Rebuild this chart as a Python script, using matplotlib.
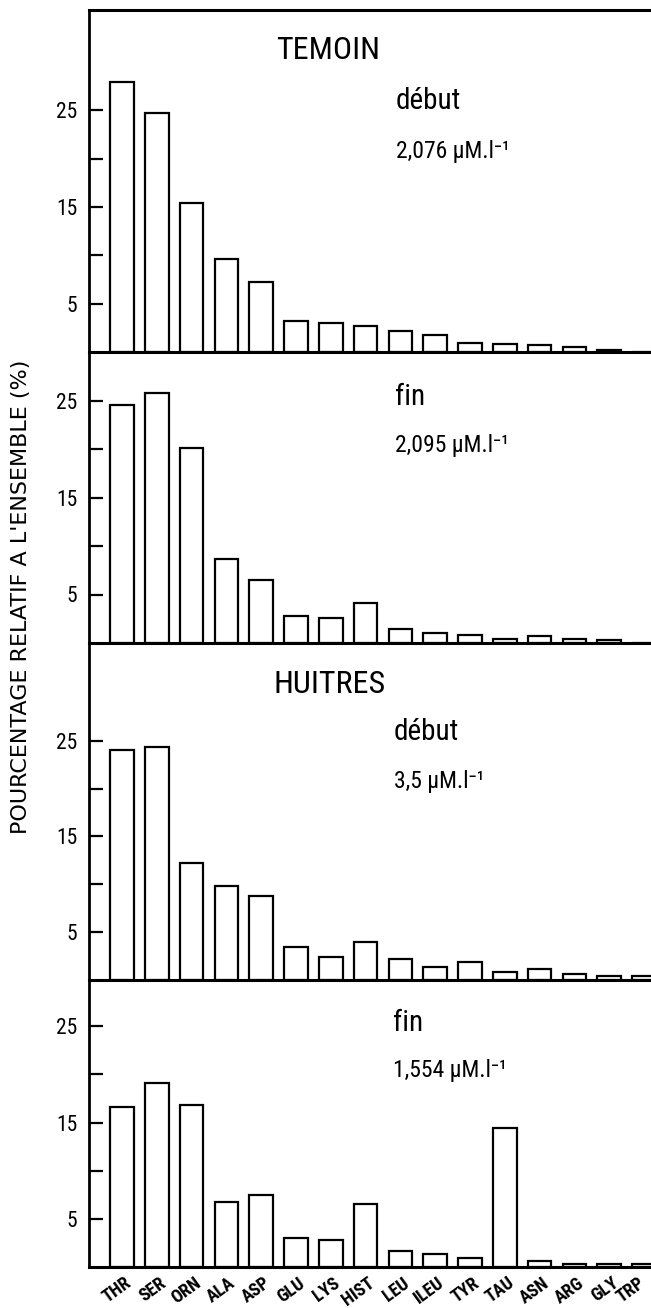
import matplotlib
matplotlib.use("Agg")
import matplotlib.pyplot as plt
from matplotlib import font_manager
from matplotlib.transforms import ScaledTranslation
import numpy as np

# ---------------- data ----------------
amino_acids = ["THR", "SER", "ORN", "ALA", "ASP", "GLU", "LYS", "HIST",
               "LEU", "ILEU", "TYR", "TAU", "ASN", "ARG", "GLY", "TRP"]
temoin_debut = [27.9, 24.7, 15.4, 9.6, 7.2, 3.2, 3.05, 2.7, 2.2, 1.8, 0.9, 0.8, 0.75, 0.5, 0.2, 0.0]
temoin_fin = [24.5, 25.8, 20.1, 8.7, 6.5, 2.8, 2.6, 4.1, 1.45, 1.0, 0.8, 0.4, 0.7, 0.4, 0.35, 0.0]
huitres_debut = [24.0, 24.3, 12.2, 9.8, 8.8, 3.4, 2.4, 4.0, 2.2, 1.4, 1.9, 0.8, 1.1, 0.65, 0.45, 0.4]
huitres_fin = [16.6, 19.1, 16.8, 6.8, 7.5, 3.05, 2.8, 6.5, 1.65, 1.35, 0.97, 14.4, 0.6, 0.35, 0.35, 0.35]

group_titles = ["TEMOIN", "", "HUITRES", ""]
period_labels = ["début", "fin", "début", "fin"]
concentrations = ["2,076", "2,095", "3,5", "1,554"]
unit_label = "µM.l⁻¹"
y_ticks_major = [5, 15, 25]
y_ticks_minor = [10, 20]
y_axis_label = "POURCENTAGE RELATIF A L'ENSEMBLE (%)"

series = [temoin_debut, temoin_fin, huitres_debut, huitres_fin]

# ---------------- fonts ----------------
available = {f.name for f in font_manager.fontManager.ttflist}
narrow = None
for cand in ["Liberation Sans Narrow", "Roboto Condensed", "Open Sans Condensed",
             "Liberation Sans"]:
    if cand in available:
        narrow = cand
        break
if narrow is None:
    narrow = "DejaVu Sans"
FAM = [narrow, "DejaVu Sans"]
plt.rcParams["font.family"] = FAM

# ---------------- layout ----------------
W, H = 651, 1308
DPI = 100
fig = plt.figure(figsize=(W / DPI, H / DPI), dpi=DPI)
fig.patch.set_facecolor("white")

left_px = 89
panels_px = [(10, 352), (352, 643), (643, 980), (980, 1267)]
y_tops = [35.4, 30.0, 35.2, 29.8]

title_pos = [(328, 59), None, (330, 693), None]
period_pos = [(396, 109), (395, 405), (394, 740), (393, 1031)]
conc_pos = [(396, 158), (395, 452), (394, 788), (393, 1077)]

x = np.arange(len(amino_acids))


def fx(px):
    return px / W


def fy(py):
    return 1 - py / H


axes = []
for i, (t, b) in enumerate(panels_px):
    ax = fig.add_axes([fx(left_px), fy(b), 1 - fx(left_px), (b - t) / H])
    axes.append(ax)
    ax.bar(x, series[i], width=0.68, facecolor="white", edgecolor="black",
           linewidth=1.6, zorder=2)
    ax.set_xlim(-0.95, 15.2)
    ax.set_ylim(0, y_tops[i])
    ax.spines["right"].set_visible(False)
    ax.spines["top"].set_visible(i == 0)
    ax.spines["top"].set_linewidth(2.2)
    ax.spines["left"].set_linewidth(2.0)
    ax.spines["bottom"].set_linewidth(2.2)
    ax.spines["bottom"].set_zorder(3)
    ax.set_yticks(y_ticks_major)
    ax.set_yticklabels([str(v) for v in y_ticks_major])
    ax.set_yticks(y_ticks_minor, minor=True)
    ax.tick_params(axis="y", which="both", direction="in", length=10,
                   width=1.6, pad=8.5, labelsize=15.5)
    ax.patch.set_alpha(0)
    if i < 3:
        ax.set_xticks([])
    else:
        ax.set_xticks(x)
        ax.set_xticklabels(amino_acids, rotation=36, ha="right",
                           va="top", rotation_mode="anchor",
                           fontsize=13, fontweight="bold")
        ax.tick_params(axis="x", length=0, pad=5)
        labs = ax.get_xticklabels()
        for k, lab in enumerate(labs):
            dx = 2 if k < len(labs) - 1 else -6
            off = ScaledTranslation(dx / DPI, 0, fig.dpi_scale_trans)
            lab.set_transform(lab.get_transform() + off)

    if title_pos[i] is not None:
        fig.text(fx(title_pos[i][0]), fy(title_pos[i][1]), group_titles[i],
                 ha="center", va="baseline", fontsize=23)
    fig.text(fx(period_pos[i][0]), fy(period_pos[i][1]), period_labels[i],
             ha="left", va="baseline", fontsize=21)
    fig.text(fx(conc_pos[i][0]), fy(conc_pos[i][1]),
             concentrations[i] + " " + unit_label,
             ha="left", va="baseline", fontsize=17)

fig.text(fx(21), fy(597), y_axis_label, rotation=90, ha="center", va="center",
         fontsize=16, family=["DejaVu Sans"])

fig.savefig("out.png", dpi=DPI, facecolor="white")
